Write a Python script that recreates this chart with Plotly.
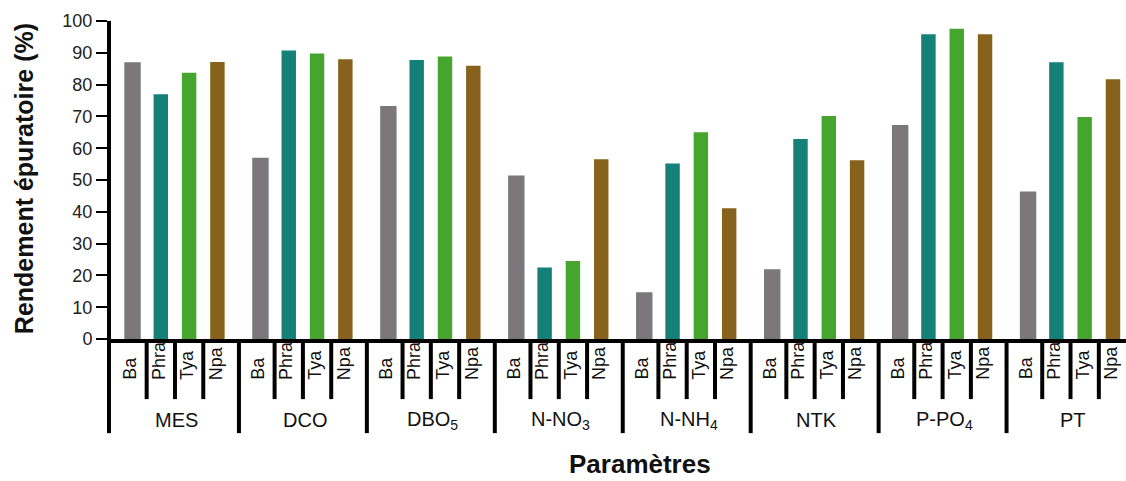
import plotly.graph_objects as go

# Treatment efficiency (%) per parameter and per bed type
parametres = ["MES", "DCO", "DBO<sub>5</sub>", "N-NO<sub>3</sub>", "N-NH<sub>4</sub>",
              "NTK", "P-PO<sub>4</sub>", "PT"]
series_names = ["Ba", "Phra", "Tya", "Npa"]

ba   = [87.0, 57.0, 73.3, 51.4, 14.7, 21.9, 67.3, 46.4]
phra = [77.0, 90.7, 87.7, 22.5, 55.2, 62.9, 95.8, 87.0]
tya  = [83.7, 89.8, 88.8, 24.5, 65.0, 70.1, 97.6, 69.8]
npa  = [87.1, 88.0, 85.9, 56.5, 41.1, 56.2, 95.8, 81.7]

y_ticks = [0, 10, 20, 30, 40, 50, 60, 70, 80, 90, 100]

series_values = [ba, phra, tya, npa]
colors = ["#7b777b", "#13807a", "#46a52f", "#87621c"]
bar_widths = [0.58, 0.51, 0.51, 0.51]

# layout of the grouped positions on a numeric axis
GROUP_PITCH = 4.52          # distance between consecutive groups (bar slots)
n_sub = len(series_names)
gap = GROUP_PITCH - (n_sub - 1)

def slot(g, k):
    return g * GROUP_PITCH + k

fig = go.Figure()
for k, (name, vals) in enumerate(zip(series_names, series_values)):
    fig.add_trace(go.Bar(
        x=[slot(g, k) for g in range(len(parametres))],
        y=vals,
        name=name,
        width=bar_widths[k],
        marker=dict(color=colors[k], line=dict(width=0)),
        showlegend=False,
    ))

x_min = -gap / 2
x_max = 35.1

shapes = []
annotations = []
LINE = dict(color="black", width=4)
sub_sep_bottom = -0.189
grp_sep_bottom = -0.296

for g, p in enumerate(parametres):
    # separators between sub-categories
    for k in range(n_sub - 1):
        xs = slot(g, k) + 0.5
        shapes.append(dict(type="line", xref="x", yref="paper",
                           x0=xs, x1=xs, y0=0, y1=sub_sep_bottom, line=LINE))
    # separator at the end of each group
    xe = slot(g, n_sub - 1) + gap / 2
    if xe < x_max:
        shapes.append(dict(type="line", xref="x", yref="paper",
                           x0=xe, x1=xe, y0=0, y1=grp_sep_bottom, line=LINE))
    # sub-category labels (rotated)
    for k, name in enumerate(series_names):
        annotations.append(dict(
            x=slot(g, k), y=-0.1345, xref="x", yref="paper",
            text=name, textangle=-90, showarrow=False,
            xanchor="center", yanchor="bottom", xshift=-2,
            font=dict(family="Liberation Sans, Arial", size=18, color="#111"),
        ))
    # group label
    annotations.append(dict(
        x=slot(g, (n_sub - 1) / 2), y=-0.255, xref="x", yref="paper",
        text=p, showarrow=False, xanchor="center", yanchor="middle", xshift=2,
        font=dict(family="Liberation Sans, Arial", size=20, color="#111"),
    ))

# left boundary continues the y axis line downwards
shapes.append(dict(type="line", xref="paper", yref="paper",
                   x0=-0.002, x1=-0.002, y0=0, y1=grp_sep_bottom, line=LINE))

# axis titles
annotations.append(dict(
    x=0.521, y=-0.393, xref="paper", yref="paper", text="<b>Paramètres</b>",
    showarrow=False, xanchor="center", yanchor="middle",
    font=dict(family="Liberation Sans, Arial", size=26, color="#111"),
))
annotations.append(dict(
    x=-0.085, y=0.505, xref="paper", yref="paper",
    text="<b>Rendement épuratoire (%)</b>", textangle=-90,
    showarrow=False, xanchor="center", yanchor="middle",
    font=dict(family="Liberation Sans, Arial", size=25, color="#111"),
))

fig.update_layout(
    width=1126, height=481,
    margin=dict(l=111, r=0, t=21, b=142),
    plot_bgcolor="white", paper_bgcolor="white",
    barmode="overlay",
    shapes=shapes,
    annotations=annotations,
    xaxis=dict(range=[x_min, x_max], showticklabels=False, ticks="",
               showgrid=False, zeroline=False,
               showline=True, linecolor="black", linewidth=4),
    yaxis=dict(range=[0, 100], tickvals=y_ticks, ticks="outside",
               ticklen=11, tickwidth=2, tickcolor="black",
               showgrid=False, zeroline=False,
               showline=True, linecolor="black", linewidth=4,
               tickfont=dict(family="Liberation Sans, Arial", size=18, color="#222")),
)

fig.write_html("out.html")
